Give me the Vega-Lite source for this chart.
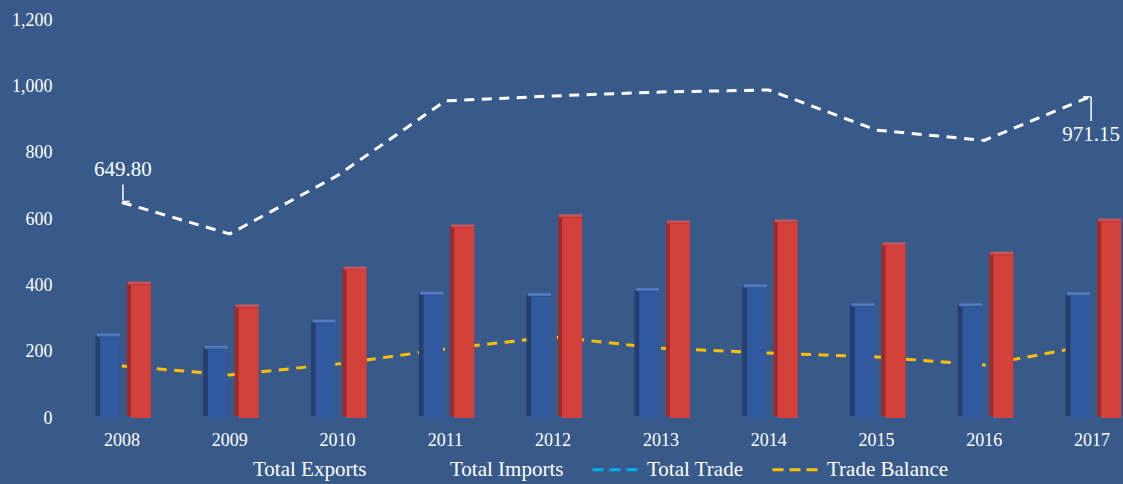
{
  "$schema": "https://vega.github.io/schema/vega-lite/v6.json",
  "autosize": {"type": "none"},
  "padding": {"left": 68, "top": 20, "right": 0, "bottom": 66},
  "width": 1055,
  "height": 398,
  "background": "#385A8B",
  "config": {
    "view": {"stroke": null},
    "font": "Liberation Serif",
    "mark": {"font": "Liberation Serif"},
    "text": {"font": "Liberation Serif"},
    "style": {"text": {"font": "Liberation Serif"}},
    "axis": {"grid": false, "domain": false, "ticks": false, "labelFont": "Liberation Serif", "labelFontSize": 18, "labelColor": "#FFFFFF", "title": null}
  },
  "data": {"values": [
    {"year": "2008", "exports": 244, "imports": 401, "total": 649.80, "balance": 157},
    {"year": "2009", "exports": 207, "imports": 332, "total": 555, "balance": 130},
    {"year": "2010", "exports": 286, "imports": 446, "total": 731, "balance": 163},
    {"year": "2011", "exports": 370, "imports": 573, "total": 956, "balance": 208},
    {"year": "2012", "exports": 366, "imports": 604, "total": 971, "balance": 245},
    {"year": "2013", "exports": 381, "imports": 585, "total": 983, "balance": 210},
    {"year": "2014", "exports": 392, "imports": 588, "total": 989, "balance": 196},
    {"year": "2015", "exports": 335, "imports": 519, "total": 868, "balance": 184},
    {"year": "2016", "exports": 335, "imports": 491, "total": 837, "balance": 160},
    {"year": "2017", "exports": 368, "imports": 591, "total": 971.15, "balance": 220}
  ]},
  "encoding": {
    "x": {"field": "year", "type": "nominal", "sort": null,
          "scale": {"range": [0, 1078], "paddingInner": 0, "paddingOuter": 0},
          "axis": {"labelAngle": 0, "labelPadding": 13}}
  },
  "layer": [
    {"mark": {"type": "line", "color": "#FFFFFF", "strokeWidth": 3, "strokeDash": [10, 7.5]},
     "encoding": {"y": {"field": "total", "type": "quantitative",
        "scale": {"domain": [0, 1200], "nice": false},
        "axis": {"values": [0, 200, 400, 600, 800, 1000, 1200], "format": ",.0f", "labelPadding": 16}}}},
    {"mark": {"type": "line", "color": "#FFC000", "strokeWidth": 3, "strokeDash": [10, 7.5]},
     "encoding": {"y": {"field": "balance", "type": "quantitative"}}},
    {"mark": {"type": "bar", "color": "#243F6E", "width": 24, "xOffset": -14.5, "yOffset": -2},
     "encoding": {"y": {"field": "exports", "type": "quantitative"}}},
    {"mark": {"type": "bar", "color": "#3059A0", "width": 19.5, "xOffset": -12},
     "encoding": {"y": {"field": "exports", "type": "quantitative"}}},
    {"mark": {"type": "tick", "orient": "horizontal", "color": "#5E8EDC", "size": 23, "thickness": 3, "xOffset": -13.5, "yOffset": -2},
     "encoding": {"y": {"field": "exports", "type": "quantitative"}}},
    {"mark": {"type": "bar", "color": "#9E2B2A", "width": 24, "xOffset": 17, "yOffset": -2},
     "encoding": {"y": {"field": "imports", "type": "quantitative"}}},
    {"mark": {"type": "bar", "color": "#D3413C", "width": 20, "xOffset": 19},
     "encoding": {"y": {"field": "imports", "type": "quantitative"}}},
    {"mark": {"type": "tick", "orient": "horizontal", "color": "#F25A56", "size": 23, "thickness": 3, "xOffset": 17.5, "yOffset": -2},
     "encoding": {"y": {"field": "imports", "type": "quantitative"}}},
    {"transform": [{"filter": "datum.year == '2008'"}],
     "mark": {"type": "text", "color": "#FFFFFF", "font": "Liberation Serif", "fontSize": 21, "baseline": "alphabetic", "dy": -26, "dx": 1},
     "encoding": {"y": {"field": "total", "type": "quantitative"}, "text": {"field": "total", "type": "quantitative", "format": ".2f"}}},
    {"transform": [{"filter": "datum.year == '2017'"}],
     "mark": {"type": "text", "color": "#FFFFFF", "font": "Liberation Serif", "fontSize": 21, "baseline": "alphabetic", "dy": 45, "dx": -1},
     "encoding": {"y": {"field": "total", "type": "quantitative"}, "text": {"field": "total", "type": "quantitative", "format": ".2f"}}},
    {"transform": [{"filter": "datum.year == '2008'"}],
     "mark": {"type": "rule", "color": "#FFFFFF", "strokeWidth": 1.5, "xOffset": 1, "yOffset": -2, "y2Offset": -18},
     "encoding": {"y": {"field": "total", "type": "quantitative"}, "y2": {"field": "total"}}},
    {"transform": [{"filter": "datum.year == '2008'"}],
     "mark": {"type": "rule", "color": "#FFFFFF", "strokeWidth": 1.5, "xOffset": 1, "x2Offset": 8, "yOffset": -1},
     "encoding": {"x2": {"field": "year"}, "y": {"field": "total", "type": "quantitative"}}},
    {"transform": [{"filter": "datum.year == '2017'"}],
     "mark": {"type": "rule", "color": "#FFFFFF", "strokeWidth": 1.5, "xOffset": -1, "yOffset": 1, "y2Offset": 25},
     "encoding": {"y": {"field": "total", "type": "quantitative"}, "y2": {"field": "total"}}},
    {"transform": [{"filter": "datum.year == '2017'"}],
     "mark": {"type": "rule", "color": "#FFFFFF", "strokeWidth": 1.5, "xOffset": -9, "x2Offset": -1, "yOffset": 1},
     "encoding": {"x2": {"field": "year"}, "y": {"field": "total", "type": "quantitative"}}},
    {"data": {"values": [
      {"series": "Total Exports"}, {"series": "Total Imports"}, {"series": "Total Trade"}, {"series": "Trade Balance"}
     ]},
     "transform": [{"filter": "false"}],
     "mark": {"type": "line"},
     "encoding": {
       "x": {"field": "series", "type": "nominal"},
       "color": {"field": "series", "type": "nominal",
         "scale": {"domain": ["Total Exports", "Total Imports", "Total Trade", "Trade Balance"],
                   "range": ["rgba(0,0,0,0)", "rgba(0,0,0,0)", "#00B0F0", "#FFC000"]},
         "legend": {"orient": "none", "legendX": 129, "legendY": 423, "direction": "horizontal", "columns": 4,
                    "title": null, "padding": 0, "columnPadding": 22, "labelOffset": 3,
                    "labelFont": "Liberation Serif", "labelFontSize": 21, "labelColor": "#FFFFFF", "labelLimit": 0,
                    "symbolType": "stroke", "symbolSize": 2500, "symbolStrokeWidth": 3, "symbolDash": [11, 6], "symbolOpacity": 1}}
     }}
  ]
}
